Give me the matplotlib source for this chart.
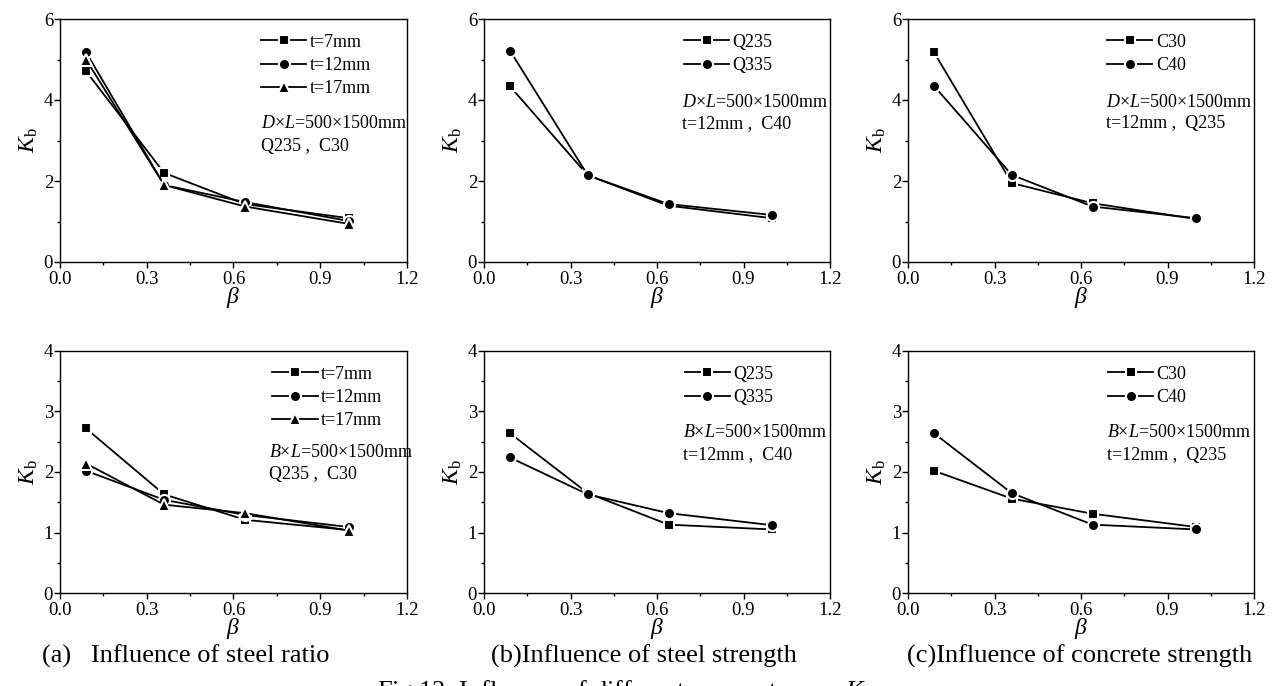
import matplotlib
matplotlib.use("Agg")
import matplotlib.pyplot as plt
from matplotlib.ticker import MultipleLocator

plt.rcParams['font.family'] = ['Liberation Serif', 'DejaVu Serif']
plt.rcParams['mathtext.fontset'] = 'custom'
plt.rcParams['mathtext.rm'] = 'Liberation Serif'
plt.rcParams['mathtext.it'] = 'Liberation Serif:italic'

beta = [0.09, 0.36, 0.64, 1.0]

# top row: circular sections (D x L)
top_a_labels = ['t=7mm', 't=12mm', 't=17mm']
top_a = [[4.71, 2.20, 1.43, 1.08],
         [5.18, 1.90, 1.48, 1.01],
         [5.00, 1.90, 1.37, 0.94]]
top_b_labels = ['Q235', 'Q335']
top_b = [[4.34, 2.14, 1.39, 1.08],
         [5.22, 2.14, 1.43, 1.16]]
top_c_labels = ['C30', 'C40']
top_c = [[5.18, 1.95, 1.45, 1.06],
         [4.35, 2.15, 1.37, 1.08]]

# bottom row: square sections (B x L)
bot_a_labels = ['t=7mm', 't=12mm', 't=17mm']
bot_a = [[2.72, 1.63, 1.21, 1.04],
         [2.02, 1.54, 1.29, 1.09],
         [2.14, 1.46, 1.32, 1.03]]
bot_b_labels = ['Q235', 'Q335']
bot_b = [[2.64, 1.65, 1.13, 1.05],
         [2.24, 1.63, 1.32, 1.12]]
bot_c_labels = ['C30', 'C40']
bot_c = [[2.02, 1.56, 1.31, 1.09],
         [2.64, 1.65, 1.13, 1.05]]

markers = ['s', 'o', '^']
msizes = [7.0, 8.0, 9.0]

fig = plt.figure(figsize=(12.78, 6.86), dpi=100)
W, H = 1278.0, 686.0


def make_axes(left, top, bottom, right):
    return fig.add_axes([left / W, 1 - bottom / H, (right - left) / W, (bottom - top) / H])


def draw(ax, series, labels, ymax, ymajor, yminor, leg_x, ann_x, ann_y, ann_lines):
    for i, ys in enumerate(series):
        ax.plot(beta, ys, color='black', lw=1.3, marker=markers[i], ms=msizes[i],
                mfc='black', mec='white', mew=1.5, label=labels[i])
    ax.set_xlim(0, 1.2)
    ax.set_ylim(0, ymax)
    ax.xaxis.set_major_locator(MultipleLocator(0.3))
    ax.xaxis.set_minor_locator(MultipleLocator(0.15))
    ax.yaxis.set_major_locator(MultipleLocator(ymajor))
    ax.yaxis.set_minor_locator(MultipleLocator(yminor))
    ax.xaxis.set_major_formatter(matplotlib.ticker.FormatStrFormatter('%.1f'))
    ax.yaxis.set_major_formatter(matplotlib.ticker.FormatStrFormatter('%d'))
    ax.tick_params(which='both', direction='out', top=False, right=False,
                   labelsize=13.5, pad=1.0, width=1.0)
    ax.tick_params(axis='x', which='major', pad=2.5)
    ax.tick_params(which='major', length=4)
    ax.tick_params(which='minor', length=2.5)
    for s in ax.spines.values():
        s.set_linewidth(1.0)
    ax.set_xlabel(r'$\beta$', fontsize=17, labelpad=-2)
    ax.set_ylabel(r'$K_{\rm b}$', fontsize=17, labelpad=3)
    ax.legend(loc='upper left', bbox_to_anchor=(leg_x, 0.94), frameon=False,
              fontsize=13, borderpad=0, borderaxespad=0, handlelength=2.5,
              handletextpad=0.2, labelspacing=0.35)
    for j, line in enumerate(ann_lines):
        ax.text(ann_x, ann_y[j], line, transform=ax.transAxes, fontsize=13,
                ha='left', va='center')


cols = [(60, 407), (484, 830), (908, 1254)]

ax1 = make_axes(cols[0][0], 19, 262, cols[0][1])
draw(ax1, top_a, top_a_labels, 6, 2, 1, 0.58, 0.58, [0.568, 0.477],
     [r'$D$×$L$=500×1500mm', 'Q235 ,  C30'])
ax2 = make_axes(cols[1][0], 19, 262, cols[1][1])
draw(ax2, top_b, top_b_labels, 6, 2, 1, 0.578, 0.571, [0.658, 0.568],
     [r'$D$×$L$=500×1500mm', 't=12mm ,  C40'])
ax3 = make_axes(cols[2][0], 19, 262, cols[2][1])
draw(ax3, top_c, top_c_labels, 6, 2, 1, 0.576, 0.573, [0.658, 0.568],
     [r'$D$×$L$=500×1500mm', 't=12mm ,  Q235'])

ax4 = make_axes(cols[0][0], 351, 593, cols[0][1])
draw(ax4, bot_a, bot_a_labels, 4, 1, 0.5, 0.612, 0.602, [0.579, 0.488],
     [r'$B$×$L$=500×1500mm', 'Q235 ,  C30'])
ax5 = make_axes(cols[1][0], 351, 593, cols[1][1])
draw(ax5, bot_b, bot_b_labels, 4, 1, 0.5, 0.58, 0.576, [0.665, 0.570],
     [r'$B$×$L$=500×1500mm', 't=12mm ,  C40'])
ax6 = make_axes(cols[2][0], 351, 593, cols[2][1])
draw(ax6, bot_c, bot_c_labels, 4, 1, 0.5, 0.578, 0.576, [0.665, 0.570],
     [r'$B$×$L$=500×1500mm', 't=12mm ,  Q235'])

fig.text(42 / W, 1 - 656 / H, '(a)   Influence of steel ratio', fontsize=19,
         ha='left', va='center')
fig.text(644 / W, 1 - 656 / H, '(b)Influence of steel strength', fontsize=19,
         ha='center', va='center')
fig.text(1080 / W, 1 - 656 / H, '(c)Influence of concrete strength', fontsize=19,
         ha='center', va='center')
fig.text(625 / W, 1 - 678 / H, r'Fig.13  Influence of different parameters on $K_{\rm b}$',
         fontsize=19, ha='center', va='top')

fig.savefig('out.png', dpi=100)
